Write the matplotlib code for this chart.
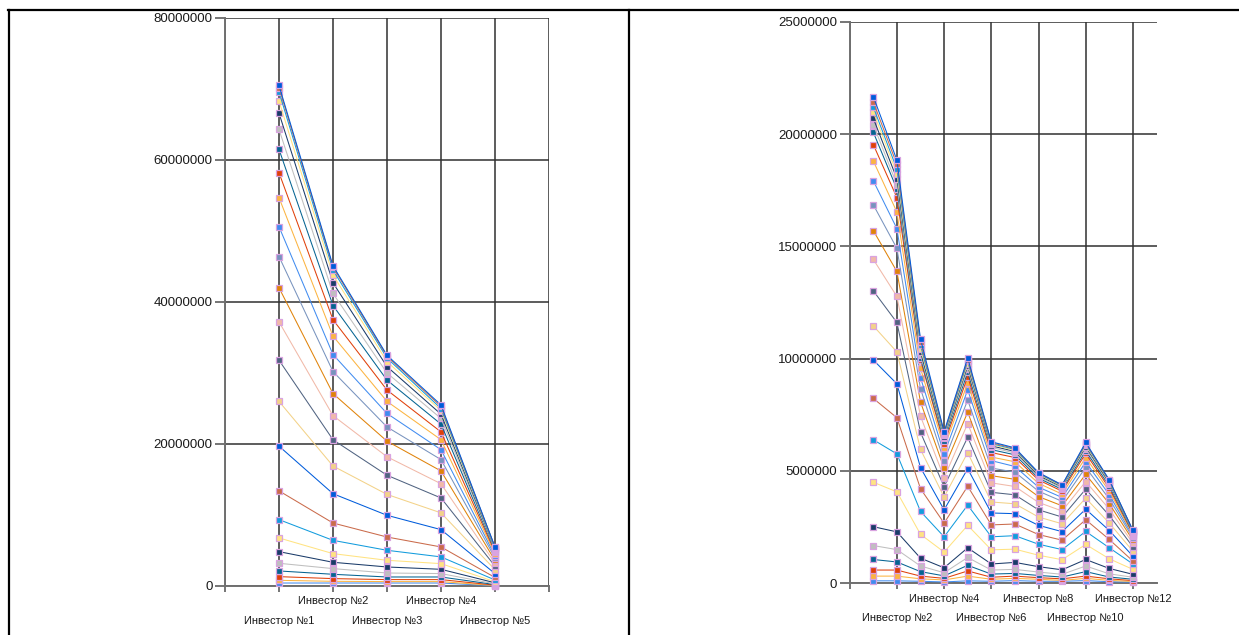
import numpy as np
import matplotlib
matplotlib.use('Agg')
import matplotlib.pyplot as plt
from matplotlib.lines import Line2D

plt.rcParams['font.family'] = ['Liberation Sans', 'DejaVu Sans']

# Палитра (BrightPastel)
palette = ['#418CF0', '#FCB441', '#E0400A', '#056492', '#BFBFBF', '#1A3B69', '#FFE382',
           '#129CDD', '#CA6B4B', '#005CDB', '#F3D288', '#506381', '#F1B9A8', '#E0830A', '#7893BE']

# Левая диаграмма: 5 инвесторов, 25 серий (млн)
left_labels = ['Инвестор №1', 'Инвестор №2', 'Инвестор №3', 'Инвестор №4', 'Инвестор №5']
left_inv1 = [0.42, 0.8, 1.32, 2.12, 3.2, 4.84, 6.77, 9.35, 13.4, 19.7, 26.0, 31.8, 37.2, 42.0, 46.4,
             50.6, 54.7, 58.2, 61.5, 64.3, 66.6, 68.3, 69.6, 70.2, 70.5]
left_inv2 = [0.42, 0.66, 1.04, 1.65, 2.45, 3.34, 4.56, 6.43, 8.87, 13.0, 16.9, 20.6, 24.0, 27.1, 30.2,
             32.6, 35.2, 37.5, 39.5, 41.2, 42.7, 43.8, 44.5, 44.9, 45.1]
left_inv3 = [0.42, 0.62, 0.9, 1.27, 1.83, 2.68, 3.62, 5.03, 6.9, 9.96, 12.9, 15.6, 18.2, 20.4, 22.4,
             24.3, 26.0, 27.6, 29.0, 30.0, 30.9, 31.6, 32.1, 32.35, 32.5]
left_inv4 = [0.42, 0.62, 0.9, 1.27, 1.75, 2.35, 3.15, 4.1, 5.5, 7.94, 10.3, 12.4, 14.4, 16.2, 17.8,
             19.2, 20.6, 21.7, 22.8, 23.6, 24.2, 24.7, 25.0, 25.3, 25.5]
left_inv5 = [0.03, 0.06, 0.12, 0.2, 0.3, 0.45, 0.6, 0.85, 1.2, 1.75, 2.3, 2.8, 3.2, 3.6, 3.95,
             4.25, 4.5, 4.75, 4.95, 5.1, 5.25, 5.35, 5.42, 5.47, 5.5]
left_yticks = [0, 20, 40, 60, 80]

# Правая диаграмма: 12 инвесторов, 25 серий (млн)
right_labels = ['Инвестор №%d' % k for k in range(1, 13)]
right_inv1 = [0.11, 0.32, 0.59, 1.06, 1.68, 2.52, 4.5, 6.39, 8.23, 9.94, 11.46, 13.02, 14.42, 15.7, 16.85,
              17.92, 18.8, 19.53, 20.08, 20.42, 20.7, 20.98, 21.2, 21.43, 21.67]
right_inv2 = [0.11, 0.32, 0.59, 0.95, 1.5, 2.29, 4.07, 5.76, 7.37, 8.88, 10.3, 11.61, 12.77, 13.88, 14.91,
              15.79, 16.53, 17.17, 17.55, 17.75, 18.01, 18.24, 18.44, 18.65, 18.84]
right_inv3 = [0.09, 0.2, 0.32, 0.52, 0.77, 1.12, 2.18, 3.2, 4.21, 5.15, 5.96, 6.72, 7.44, 8.07, 8.66,
              9.16, 9.58, 9.95, 10.05, 10.15, 10.3, 10.45, 10.6, 10.75, 10.88]
right_inv4 = [0.06, 0.15, 0.22, 0.33, 0.47, 0.69, 1.39, 2.07, 2.68, 3.27, 3.84, 4.3, 4.7, 5.12, 5.44,
              5.75, 6.03, 6.2, 6.35, 6.45, 6.52, 6.58, 6.63, 6.7, 6.75]
right_inv5 = [0.11, 0.32, 0.55, 0.8, 1.15, 1.58, 2.58, 3.48, 4.32, 5.1, 5.82, 6.5, 7.11, 7.62, 8.16,
              8.61, 8.92, 9.2, 9.4, 9.55, 9.68, 9.78, 9.88, 9.96, 10.03]
right_inv6 = [0.09, 0.18, 0.27, 0.41, 0.59, 0.86, 1.49, 2.07, 2.6, 3.13, 3.62, 4.05, 4.47, 4.79, 5.13,
              5.46, 5.62, 5.82, 5.95, 6.05, 6.12, 6.18, 6.22, 6.26, 6.3]
right_inv7 = [0.12, 0.22, 0.32, 0.44, 0.62, 0.93, 1.52, 2.12, 2.64, 3.1, 3.54, 3.94, 4.31, 4.63, 4.95,
              5.2, 5.41, 5.6, 5.72, 5.8, 5.87, 5.92, 5.96, 6.0, 6.03]
right_inv8 = [0.09, 0.18, 0.25, 0.35, 0.5, 0.74, 1.25, 1.74, 2.17, 2.58, 2.95, 3.27, 3.6, 3.86, 4.1,
              4.28, 4.45, 4.6, 4.68, 4.75, 4.8, 4.85, 4.88, 4.91, 4.93]
right_inv9 = [0.09, 0.13, 0.2, 0.28, 0.4, 0.6, 1.05, 1.5, 1.92, 2.3, 2.65, 2.95, 3.22, 3.45, 3.65,
              3.82, 3.97, 4.1, 4.18, 4.24, 4.29, 4.32, 4.35, 4.37, 4.38]
right_inv10 = [0.12, 0.22, 0.32, 0.52, 0.77, 1.06, 1.73, 2.31, 2.83, 3.3, 3.79, 4.19, 4.53, 4.85, 5.16,
               5.4, 5.6, 5.78, 5.9, 6.0, 6.08, 6.14, 6.19, 6.23, 6.27]
right_inv11 = [0.07, 0.13, 0.2, 0.28, 0.42, 0.66, 1.09, 1.58, 1.95, 2.35, 2.68, 3.02, 3.3, 3.54, 3.75,
               3.94, 4.1, 4.23, 4.33, 4.41, 4.47, 4.52, 4.56, 4.58, 4.6]
right_inv12 = [0.05, 0.08, 0.12, 0.18, 0.27, 0.4, 0.62, 0.86, 0.99, 1.21, 1.43, 1.62, 1.78, 1.92, 2.02,
               2.1, 2.16, 2.21, 2.25, 2.28, 2.3, 2.32, 2.33, 2.35, 2.36]
right_yticks = [0, 5, 10, 15, 20, 25]


def draw_panel(ax, columns, labels, yticks, step):
    data = np.column_stack(columns) * 1e6   # строки = серии, столбцы = инвесторы
    n = data.shape[1]
    x = np.arange(1, n + 1)
    for i, row in enumerate(data):
        ax.plot(x, row, '-', color=palette[i % 15], lw=0.75, marker='s', ms=4.3,
                mfc=palette[i % 15], mec='#d9a3e0', mew=0.9, clip_on=False, zorder=3)

    ax.set_xlim(0, n + 1)
    ax.set_ylim(0, yticks[-1] * 1e6)

    xt = list(range(0, n + 1, step))
    if step == 1:
        xt = list(range(0, n + 2))
    ax.set_xticks(xt)
    xl = []
    for t in xt:
        xl.append(labels[t - 1] if 1 <= t <= n else '')
    ax.set_xticklabels(xl, fontsize=8, color='#1a1a1a')
    # подписи в два ряда
    lab_ticks = [t for t in xt if 1 <= t <= n]
    for tk, t in zip(ax.xaxis.get_major_ticks(), xt):
        if t in lab_ticks and lab_ticks.index(t) % 2 == 0:
            tk.set_pad(17)
        else:
            tk.set_pad(3)

    ax.set_yticks([v * 1e6 for v in yticks])
    ax.set_yticklabels([str(int(v * 1e6)) for v in yticks], fontsize=9.5, color='#1a1a1a')

    ax.grid(True, color='#303030', lw=1.1)
    ax.set_axisbelow(True)
    for s in ['top', 'right']:
        ax.spines[s].set_visible(False)
    for s in ['left', 'bottom']:
        ax.spines[s].set_color('#707070')
        ax.spines[s].set_linewidth(1.4)
    ax.tick_params(axis='x', direction='out', length=4.5, width=1.1, color='#505050')
    ax.tick_params(axis='y', direction='out', length=7, width=1.1, color='#505050', pad=2)


fig = plt.figure(figsize=(12.39, 6.35), dpi=100)

ax1 = fig.add_axes([225 / 1239, (635 - 586) / 635, 324 / 1239, 568 / 635])
draw_panel(ax1, [left_inv1, left_inv2, left_inv3, left_inv4, left_inv5], left_labels, left_yticks, 1)

ax2 = fig.add_axes([849.7 / 1239, (635 - 583.3) / 635, 306.8 / 1239, 561.6 / 635])
draw_panel(ax2, [right_inv1, right_inv2, right_inv3, right_inv4, right_inv5, right_inv6,
                 right_inv7, right_inv8, right_inv9, right_inv10, right_inv11, right_inv12],
           right_labels, right_yticks, 2)

# рамка таблицы
ytop = 1 - 10 / 635
fig.add_artist(Line2D([8 / 1239, 1], [ytop, ytop], color='black', lw=1.6))
fig.add_artist(Line2D([9 / 1239, 9 / 1239], [0, ytop], color='black', lw=1.6))
fig.add_artist(Line2D([629 / 1239, 629 / 1239], [0, ytop], color='black', lw=1.6))

fig.savefig('out.png', dpi=100)
